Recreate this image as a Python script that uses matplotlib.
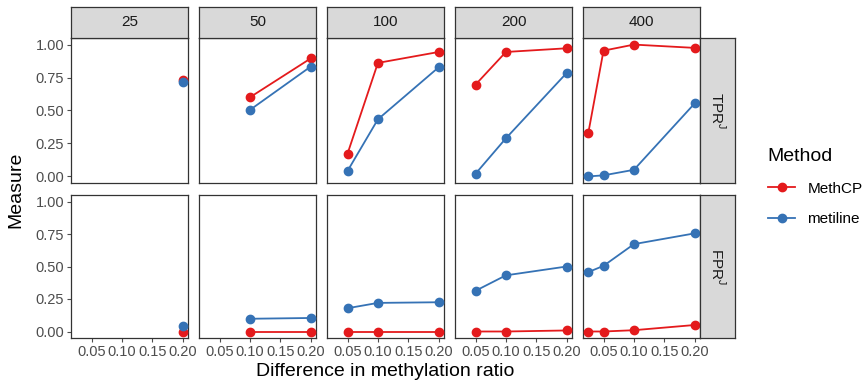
import matplotlib.pyplot as plt
from matplotlib.lines import Line2D

plt.rcParams['font.family'] = ['Liberation Sans', 'DejaVu Sans']
plt.rcParams['mathtext.fontset'] = 'custom'
plt.rcParams['mathtext.rm'] = 'Liberation Sans'

# facet columns (sample size) and rows (measure)
sizes = ['25', '50', '100', '200', '400']
rows = [r'$\mathrm{TPR}^{\mathrm{J}}$', r'$\mathrm{FPR}^{\mathrm{J}}$']

# x values (difference in methylation ratio) present in each column
x_25 = [0.2]
x_50 = [0.1, 0.2]
x_100 = [0.05, 0.1, 0.2]
x_200 = [0.05, 0.1, 0.2]
x_400 = [0.025, 0.05, 0.1, 0.2]
xs = [x_25, x_50, x_100, x_200, x_400]

# TPR values
tpr_methcp = [[0.735], [0.60, 0.895], [0.172, 0.861, 0.944], [0.696, 0.944, 0.972], [0.33, 0.954, 1.0, 0.975]]
tpr_metiline = [[0.717], [0.504, 0.833], [0.041, 0.433, 0.828], [0.02, 0.289, 0.785], [0.0, 0.008, 0.05, 0.554]]

# FPR values
fpr_methcp = [[0.0], [0.0, 0.0], [0.0, 0.0, 0.0], [0.0, 0.0, 0.008], [0.0, 0.0, 0.01, 0.05]]
fpr_metiline = [[0.045], [0.098, 0.104], [0.179, 0.22, 0.225], [0.313, 0.432, 0.5], [0.457, 0.505, 0.672, 0.755]]

methods = ['MethCP', 'metiline']
colors = ['#E41A1C', '#3572B5']

W, H = 865, 387
fig = plt.figure(figsize=(W / 100, H / 100), dpi=100)

def box(x0, y0, x1, y1):
    return [x0 / W, 1 - y1 / H, (x1 - x0) / W, (y1 - y0) / H]

col_x = [71, 199, 327, 455, 583]
pw = 117
row_y = [(38, 183), (195, 338)]
border = '#333333'
tick_col = '#4D4D4D'

data = [[tpr_methcp, tpr_metiline], [fpr_methcp, fpr_metiline]]

for r in range(2):
    y0, y1 = row_y[r]
    for c in range(5):
        ax = fig.add_axes(box(col_x[c], y0, col_x[c] + pw, y1))
        for m in range(2):
            ax.plot(xs[c], data[r][m][c], color=colors[m], lw=1.3, marker='o',
                    ms=6, zorder=3, clip_on=False)
        ax.set_xlim(0.01625, 0.20875)
        ax.set_ylim(-0.05, 1.05)
        for s in ax.spines.values():
            s.set_color(border)
            s.set_linewidth(0.9)
        ax.set_xticks([0.05, 0.10, 0.15, 0.20])
        ax.set_yticks([0, 0.25, 0.5, 0.75, 1.0])
        ax.tick_params(colors=tick_col, length=3, width=0.8, labelsize=10.5, pad=2)
        if r == 1:
            ax.set_xticklabels(['0.05', '0.10', '0.15', '0.20'])
        else:
            ax.tick_params(axis='x', bottom=False, labelbottom=False)
        if c == 0:
            ax.set_yticklabels(['0.00', '0.25', '0.50', '0.75', '1.00'])
        else:
            ax.tick_params(axis='y', left=False, labelleft=False)

        # column strip
        if r == 0:
            sa = fig.add_axes(box(col_x[c], 7, col_x[c] + pw, 38))
            sa.set_facecolor('#D9D9D9')
            sa.set_xticks([])
            sa.set_yticks([])
            for s in sa.spines.values():
                s.set_color(border)
                s.set_linewidth(0.9)
            sa.text(0.5, 0.5, sizes[c], ha='center', va='center', fontsize=11,
                    color='#1A1A1A', transform=sa.transAxes)
    # row strip
    sr = fig.add_axes(box(700, y0, 735, y1))
    sr.set_facecolor('#D9D9D9')
    sr.set_xticks([])
    sr.set_yticks([])
    for s in sr.spines.values():
        s.set_color(border)
        s.set_linewidth(0.9)
    sr.text(0.5, 0.5, rows[r], ha='center', va='center', fontsize=11, rotation=-90,
            color='#1A1A1A', transform=sr.transAxes)

fig.text(16 / W, 1 - 190 / H, 'Measure', rotation=90, ha='center', va='center', fontsize=14)
fig.text(385 / W, 1 - 372 / H, 'Difference in methylation ratio', ha='center', va='center', fontsize=14)

handles = [Line2D([0], [0], color=colors[i], lw=1.3, marker='o', ms=6) for i in range(2)]
fig.legend(handles, methods, title='Method', loc='upper left', bbox_to_anchor=(754 / W, 1 - 134 / H),
           frameon=False, fontsize=11, title_fontsize=14, handlelength=1.8, labelspacing=1.1,
           handletextpad=0.8, alignment='left')

fig.savefig('out.png', dpi=100)
